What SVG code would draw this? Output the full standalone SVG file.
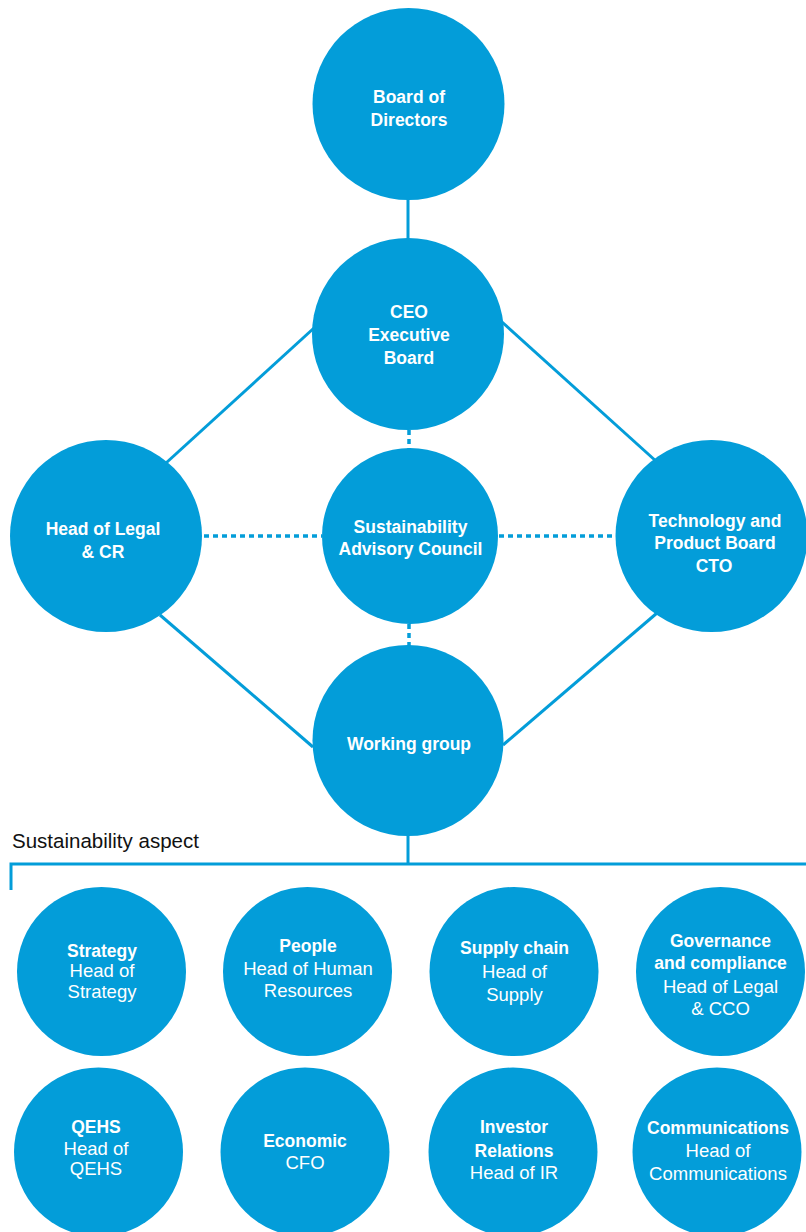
<svg xmlns="http://www.w3.org/2000/svg" width="806" height="1232" viewBox="0 0 806 1232">
<style>
.n{fill:#039dd9}
.c{stroke:#039dd9;stroke-width:3;fill:none}
.d{stroke:#039dd9;stroke-width:3.5;fill:none;stroke-dasharray:5 4}
.b{font-family:"Liberation Sans",Arial,sans-serif;font-weight:bold;font-size:17.5px;fill:#fff;text-anchor:middle}
.r{font-family:"Liberation Sans",Arial,sans-serif;font-size:18.5px;fill:#fff;text-anchor:middle}
.l{font-family:"Liberation Sans",Arial,sans-serif;font-size:20.5px;fill:#111}
</style>
<rect width="806" height="1232" fill="#fff"/>
<g id="connectors">
<line class="c" x1="408" y1="198" x2="408" y2="240"/>
<line class="c" x1="314" y1="328" x2="166" y2="463"/>
<line class="c" x1="502" y1="322" x2="657" y2="462"/>
<line class="c" x1="160" y1="615" x2="313" y2="747"/>
<line class="c" x1="657" y1="613" x2="503" y2="745"/>
<line class="d" x1="409" y1="430" x2="409" y2="449"/>
<line class="d" x1="409" y1="624" x2="409" y2="646"/>
<line class="d" x1="204" y1="536" x2="322" y2="536"/>
<line class="d" x1="499" y1="536" x2="617" y2="536"/>
<line class="c" x1="408" y1="834" x2="408" y2="864"/>
<polyline class="c" points="11,890 11,864 806,864"/>
</g>
<text class="l" x="12" y="848">Sustainability aspect</text>
<g id="board"><circle class="n" cx="408.5" cy="104" r="96"/><text class="b" x="409" y="103">Board of</text><text class="b" x="409" y="126">Directors</text></g>
<g id="ceo"><circle class="n" cx="408" cy="334" r="96"/><text class="b" x="409" y="318">CEO</text><text class="b" x="409" y="341">Executive</text><text class="b" x="409" y="364">Board</text></g>
<g id="legal"><circle class="n" cx="106" cy="536" r="96"/><text class="b" x="103" y="535">Head of Legal</text><text class="b" x="103" y="558">&amp; CR</text></g>
<g id="sac"><circle class="n" cx="410" cy="536" r="88"/><text class="b" x="410.5" y="533">Sustainability</text><text class="b" x="410.5" y="555">Advisory Council</text></g>
<g id="tech"><circle class="n" cx="711.5" cy="536" r="96"/><text class="b" x="715" y="527">Technology and</text><text class="b" x="715" y="549">Product Board</text><text class="b" x="714" y="572">CTO</text></g>
<g id="wg"><circle class="n" cx="408" cy="740.5" r="95.5"/><text class="b" x="409" y="750">Working group</text></g>
<g id="strategy"><circle class="n" cx="101.5" cy="971.5" r="84.5"/><text class="b" x="102" y="957">Strategy</text><text class="r" x="102" y="977">Head of</text><text class="r" x="102" y="998">Strategy</text></g>
<g id="people"><circle class="n" cx="307.5" cy="971.5" r="84.5"/><text class="b" x="308" y="952">People</text><text class="r" x="308" y="975">Head of Human</text><text class="r" x="308" y="997">Resources</text></g>
<g id="supply"><circle class="n" cx="514" cy="971.5" r="84.5"/><text class="b" x="514.5" y="954">Supply chain</text><text class="r" x="514.5" y="977.5">Head of</text><text class="r" x="514.5" y="1000.5">Supply</text></g>
<g id="governance"><circle class="n" cx="720.5" cy="971.5" r="84.5"/><text class="b" x="720.5" y="947">Governance</text><text class="b" x="720.5" y="969">and compliance</text><text class="r" x="720.5" y="992.5">Head of Legal</text><text class="r" x="720.5" y="1015">&amp; CCO</text></g>
<g id="qehs"><circle class="n" cx="98.5" cy="1152" r="84.5"/><text class="b" x="96" y="1133">QEHS</text><text class="r" x="96" y="1155">Head of</text><text class="r" x="96" y="1175">QEHS</text></g>
<g id="economic"><circle class="n" cx="305" cy="1152" r="84.5"/><text class="b" x="305" y="1147">Economic</text><text class="r" x="305" y="1169">CFO</text></g>
<g id="investor"><circle class="n" cx="513" cy="1152" r="84.5"/><text class="b" x="514" y="1133">Investor</text><text class="b" x="514" y="1156.5">Relations</text><text class="r" x="514" y="1179">Head of IR</text></g>
<g id="communications"><circle class="n" cx="717" cy="1152" r="84.5"/><text class="b" x="718" y="1134">Communications</text><text class="r" x="718" y="1157">Head of</text><text class="r" x="718" y="1180">Communications</text></g>
</svg>
